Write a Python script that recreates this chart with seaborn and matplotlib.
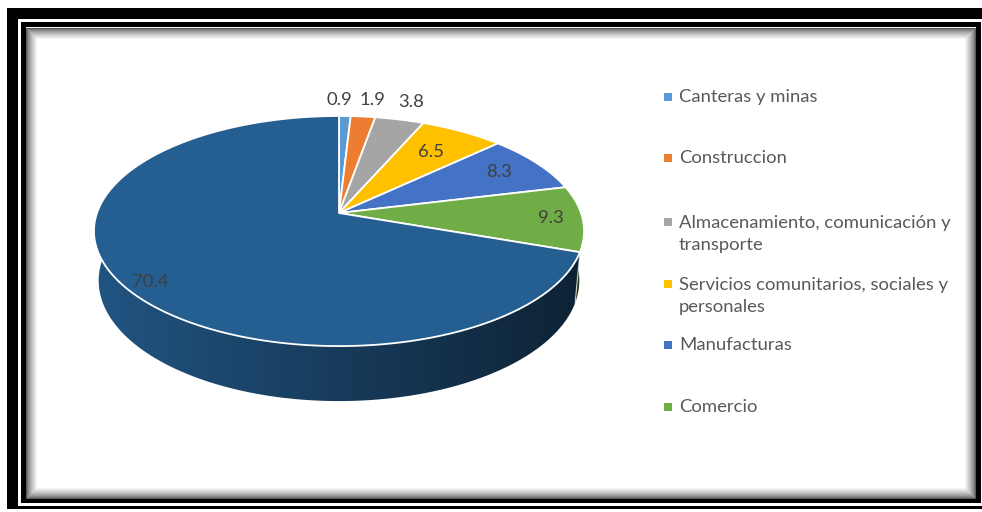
import numpy as np
import matplotlib
matplotlib.use("Agg")
import matplotlib.pyplot as plt
from matplotlib.patches import Rectangle, Polygon
import seaborn as sns

# datos del grafico
categorias = ["Canteras y minas",
              "Construccion",
              "Almacenamiento, comunicación y\ntransporte",
              "Servicios comunitarios, sociales y\npersonales",
              "Manufacturas",
              "Comercio"]
valores = [0.9, 1.9, 3.8, 6.5, 8.3, 9.3]
valor_resto = 70.4   # porcion grande, sin entrada en la leyenda

colores = sns.color_palette(["#5B9BD5", "#ED7D31", "#A5A5A5", "#FFC000",
                             "#4472C4", "#70AD47", "#255E91"])

sns.set_theme(style="white")
plt.rcParams['font.family'] = ['Lato', 'DejaVu Sans']

vals = np.array(valores + [valor_resto])
total = vals.sum()
cum = np.concatenate([[0], np.cumsum(vals)])
ang0 = np.deg2rad(90 - 360 * cum[:-1] / total)
ang1 = np.deg2rad(90 - 360 * cum[1:] / total)

# proyeccion en perspectiva (tipo pastel 3D de Excel)
CX, CY = 339, 213
D, S, C = 5.65, 0.4637, 0.886
F = 242 * D
H = 0.233


def proj(t, r=1.0, z=0.0):
    xc = r * np.cos(t)
    yc = r * np.sin(t) * S + z * C
    zc = D + r * np.sin(t) * C - z * S
    return CX + F * xc / zc, CY - F * yc / zc


fig = plt.figure(figsize=(9.82, 5.12), dpi=100)
ax = fig.add_axes([0, 0, 1, 1])
ax.set_xlim(0, 982)
ax.set_ylim(512, 0)
ax.axis('off')

# marco
ax.add_patch(Rectangle((7, 8), 990, 501, color='black', lw=0))
ax.add_patch(Rectangle((18, 19), 990, 487, color='white', lw=0))
ax.add_patch(Rectangle((21, 22), 960, 481, color='black', lw=0))
ax.add_patch(Rectangle((26, 27), 950, 471, color='white', lw=0))
for i in range(12):
    g = 0.35 + 0.65 * (i / 11) ** 0.7
    ax.add_patch(Rectangle((26 + i + 0.5, 27 + i + 0.5), 950 - 2 * i - 1, 471 - 2 * i - 1,
                           fill=False, edgecolor=(g, g, g), lw=0.75))

# lados del pastel (degradado recortado al contorno)
xmin, xmax = CX - 246, CX + 246
lo_w, hi_w = np.deg2rad(-186), np.deg2rad(6)
grad = np.linspace(0.9, 0.36, 256)
for k in range(len(vals)):
    lo, hi = max(ang1[k], lo_w), min(ang0[k], hi_w)
    if lo >= hi:
        continue
    ts = np.linspace(lo, hi, 200)
    xt, yt = proj(ts)
    xb, yb = proj(ts[::-1], z=-H)
    pts = list(zip(xt, yt)) + list(zip(xb, yb))
    clip = Polygon(pts, closed=True, facecolor='none', edgecolor='none')
    ax.add_patch(clip)
    img = np.array(colores[k])[None, None, :] * grad[None, :, None]
    im = ax.imshow(img, extent=(xmin, xmax, 420, 150), aspect='auto',
                   interpolation='bilinear', zorder=1)
    im.set_clip_path(clip)
    if lo_w < ang0[k] < hi_w:
        x1, y1 = proj(ang0[k])
        x2, y2 = proj(ang0[k], z=-H)
        ax.plot([x1, x2], [y1, y2], color='white', lw=0.8, alpha=0.7, zorder=1.5)

# cara superior
for k in range(len(vals)):
    ts = np.linspace(ang0[k], ang1[k], 200)
    xs, ys = proj(ts)
    pts = [(CX, CY)] + list(zip(xs, ys))
    ax.add_patch(Polygon(pts, closed=True, facecolor=colores[k], edgecolor='white',
                         lw=1.3, joinstyle='round', zorder=2))

# etiquetas de datos
radios = [1.2, 1.2, 1.22, 0.72, 0.8, 0.87, 0.9]
desp = [(-6, 0), (5, 0), (0, 0), (0, 0), (0, 0), (0, 0), (5, 5)]
for k in range(len(vals)):
    mid = (ang0[k] + ang1[k]) / 2
    x, y = proj(mid, r=radios[k])
    ax.text(x + desp[k][0], y + desp[k][1], f"{vals[k]:.1f}", ha='center', va='center',
            fontsize=13.3, color='#404040', zorder=3)

# leyenda
ley_y = [97, 158, 234, 296, 345, 407]
for k, nombre in enumerate(categorias):
    y0 = ley_y[k] - (12 if "\n" in nombre else 0)
    ax.add_patch(Rectangle((664, y0 - 4), 8, 8, color=colores[k], lw=0))
    ax.text(679, ley_y[k], nombre, ha='left', va='center', fontsize=13.3,
            color='#595959', linespacing=1.45)

fig.savefig("out.png", dpi=100)
